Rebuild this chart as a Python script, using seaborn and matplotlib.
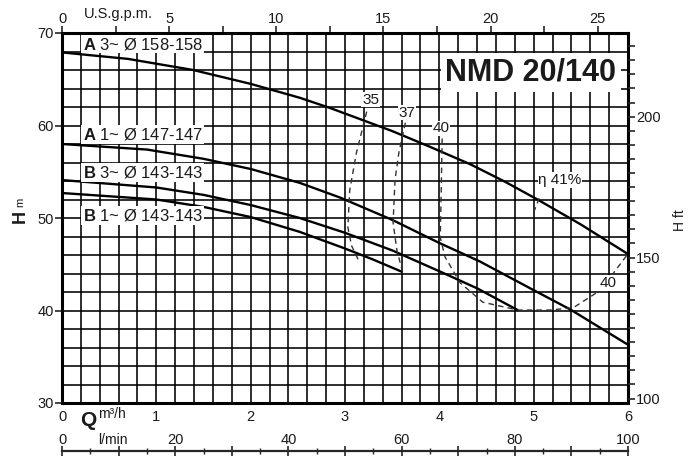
import numpy as np
import pandas as pd
import matplotlib
matplotlib.use("Agg")
import matplotlib.pyplot as plt
import seaborn as sns
from matplotlib.ticker import MultipleLocator, FuncFormatter

# ---- data (Q in m3/h, H in m) ----
a3_q = [0.0, 0.7, 1.39, 2.0, 2.52, 2.84, 3.5, 3.9, 4.33, 4.7, 5.04, 5.5, 6.0]
a3_h = [67.9, 67.2, 66.0, 64.5, 63.0, 61.9, 59.4, 57.7, 55.8, 53.9, 52.0, 49.3, 46.1]
a1_q = [0.0, 0.9, 1.5, 2.0, 2.52, 2.95, 3.5, 4.0, 4.43, 5.0, 5.39, 6.0]
a1_h = [58.0, 57.4, 56.4, 55.3, 53.8, 52.2, 49.8, 47.3, 45.3, 42.2, 40.1, 36.3]
b3_q = [0.0, 1.0, 1.5, 2.0, 2.52, 3.0, 3.5, 4.01, 4.4, 4.83]
b3_h = [54.1, 53.3, 52.5, 51.4, 50.0, 48.4, 46.5, 44.2, 42.4, 40.05]
b1_q = [0.0, 1.0, 1.5, 2.0, 2.52, 3.0, 3.3, 3.6]
b1_h = [52.7, 52.0, 51.2, 50.1, 48.5, 46.7, 45.5, 44.2]

eff35_q = [3.23, 3.12, 3.05, 3.03, 3.07, 3.14]
eff35_h = [61.5, 57.0, 53.0, 49.0, 47.0, 45.5]
eff37_q = [3.64, 3.57, 3.53, 3.51, 3.55, 3.61]
eff37_h = [60.3, 57.0, 54.1, 49.5, 46.5, 44.2]
eff40_q = [4.03, 4.02, 4.01, 4.06, 4.22, 4.46, 4.83, 5.17, 5.42, 5.71, 5.99]
eff40_h = [58.6, 53.0, 47.9, 45.8, 43.0, 40.9, 40.05, 40.05, 40.3, 42.2, 46.0]
eff41_q = [5.0, 5.06]
eff41_h = [50.6, 52.2]

curve_labels = ["3~ Ø 158-158", "1~ Ø 147-147", "3~ Ø 143-143", "1~ Ø 143-143"]
curve_letters = ["A", "A", "B", "B"]
curve_label_h = [68.8, 59.0, 54.9, 50.3]

x_ticks_m3h = [0, 1, 2, 3, 4, 5, 6]
y_ticks_m = [30, 40, 50, 60, 70]
gpm_ticks = [0, 5, 10, 15, 20, 25]
ft_ticks = [100, 150, 200]
lmin_ticks = [0, 20, 40, 60, 80, 100]

# ---- style ----
sns.set_style("white")
plt.rcParams["font.family"] = ["Liberation Sans", "DejaVu Sans"]
plt.rcParams["mathtext.fontset"] = "custom"
plt.rcParams["mathtext.bf"] = "Liberation Sans:bold"
TXT = "#1a1a1a"

W, H = 699, 463
fig = plt.figure(figsize=(W / 100, H / 100), dpi=100)
L, R, T, B = 62, 628, 33, 403
ax = fig.add_axes([L / W, 1 - B / H, (R - L) / W, (B - T) / H])

ax.set_xlim(0, 6)
ax.set_ylim(30, 70)

# grid
ax.xaxis.set_minor_locator(MultipleLocator(0.2))
ax.yaxis.set_minor_locator(MultipleLocator(2))
ax.set_xticks(x_ticks_m3h)
ax.set_yticks(y_ticks_m)
ax.grid(True, which="both", color="black", linewidth=1.15)
ax.set_axisbelow(True)
ax.tick_params(axis="both", which="minor", length=0)
ax.tick_params(axis="x", which="major", direction="out", length=5, width=1.2,
               labelsize=10.5, labelcolor=TXT, pad=0)
ax.tick_params(axis="y", which="major", direction="out", length=5, width=1.2,
               labelsize=10.5, labelcolor=TXT, pad=1)
for s in ax.spines.values():
    s.set_linewidth(2.2)
    s.set_color("black")

# head curves
curves = pd.concat([
    pd.DataFrame({"Q": a3_q, "H": a3_h, "c": "A3"}),
    pd.DataFrame({"Q": a1_q, "H": a1_h, "c": "A1"}),
    pd.DataFrame({"Q": b3_q, "H": b3_h, "c": "B3"}),
    pd.DataFrame({"Q": b1_q, "H": b1_h, "c": "B1"}),
])
sns.lineplot(data=curves, x="Q", y="H", units="c", estimator=None, color="black",
             linewidth=1.7, ax=ax, legend=False, zorder=3)

# efficiency curves
for q, h in [(eff35_q, eff35_h), (eff37_q, eff37_h), (eff40_q, eff40_h), (eff41_q, eff41_h)]:
    sns.lineplot(x=q, y=h, sort=False, estimator=None, color="#333333", linewidth=1.0,
                 linestyle=(0, (4, 3)), ax=ax, legend=False, zorder=3)
ax.set_xlabel("")
ax.set_ylabel("")

bbox = dict(facecolor="white", edgecolor="none", pad=1.0)
for letter, lab, hy in zip(curve_letters, curve_labels, curve_label_h):
    ax.text(0.22, hy, r"$\mathbf{" + letter + r"}$ " + lab, fontsize=12, color=TXT,
            va="center", ha="left", bbox=bbox, zorder=5)

ax.text(4.97, 65.7, "NMD 20/140", fontsize=22, fontweight="bold", color=TXT,
        ha="center", va="center", zorder=5,
        bbox=dict(facecolor="white", edgecolor="none", pad=3))
for q, h, s in [(3.27, 62.8, "35"), (3.66, 61.4, "37"), (4.02, 59.7, "40"),
                (5.28, 54.1, "η 41%"), (5.79, 43.0, "40")]:
    ax.text(q, h, s, fontsize=11, color=TXT, ha="center", va="center", zorder=5,
            bbox=dict(facecolor="white", edgecolor="none", pad=0.5))

# right axis: H ft
axr = ax.twinx()
axr.set_ylim(30 / 0.3048, 70 / 0.3048)
axr.set_yticks(ft_ticks)
axr.yaxis.set_minor_locator(MultipleLocator(5))
axr.tick_params(axis="y", which="both", direction="out", length=5, width=1.2,
                labelsize=10.5, labelcolor=TXT, pad=1)
axr.grid(False)
for s in axr.spines.values():
    s.set_visible(False)

# top axis: US gpm
GPM = 4.40287
axt = ax.secondary_xaxis("top", functions=(lambda x: x * GPM, lambda g: g / GPM))
axt.set_xticks(gpm_ticks)
axt.xaxis.set_minor_locator(MultipleLocator(2.5))
axt.tick_params(axis="x", which="both", direction="out", length=5, width=1.2,
                labelsize=10.5, labelcolor=TXT, pad=0)
axt.spines["top"].set_visible(False)

# bottom l/min axis
axl = fig.add_axes([L / W, 1 - 451 / H, (R - L) / W, 0.0005])
axl.set_xlim(0, 100)
axl.set_ylim(0, 1)
axl.set_yticks([])
for k in ["left", "right", "bottom"]:
    axl.spines[k].set_visible(False)
axl.spines["top"].set_linewidth(1.6)
axl.xaxis.tick_top()
axl.xaxis.set_major_locator(MultipleLocator(10))
axl.xaxis.set_minor_locator(MultipleLocator(5))
axl.xaxis.set_major_formatter(FuncFormatter(lambda v, p: f"{int(round(v))}" if int(round(v)) in lmin_ticks else ""))
axl.tick_params(axis="x", which="major", direction="inout", length=7, width=1.2,
                labelsize=10.5, labelcolor=TXT, pad=-1)
axl.tick_params(axis="x", which="minor", direction="inout", length=4, width=1.0)
axl.set_facecolor("none")

# axis titles
fig.text(118 / W, 1 - 14 / H, "U.S.g.p.m.", fontsize=10.5, color=TXT, ha="center", va="center")
fig.text(20 / W, 1 - 216 / H, "H", fontsize=13, fontweight="bold", color=TXT,
         ha="center", va="center", rotation=90)
fig.text(20 / W, 1 - 202 / H, "m", fontsize=8, color=TXT, ha="center", va="center", rotation=90)
fig.text(680 / W, 1 - 220 / H, "H ft", fontsize=10, color=TXT, ha="center", va="center", rotation=90)
fig.text(88 / W, 1 - 421 / H, "Q", fontsize=15, fontweight="bold", color=TXT, ha="center", va="center")
fig.text(98 / W, 1 - 414 / H, "m³/h", fontsize=10, color=TXT, ha="left", va="center")
fig.text(98 / W, 1 - 440 / H, "l/min", fontsize=10, color=TXT, ha="left", va="center")

fig.savefig("out.png", dpi=100)
